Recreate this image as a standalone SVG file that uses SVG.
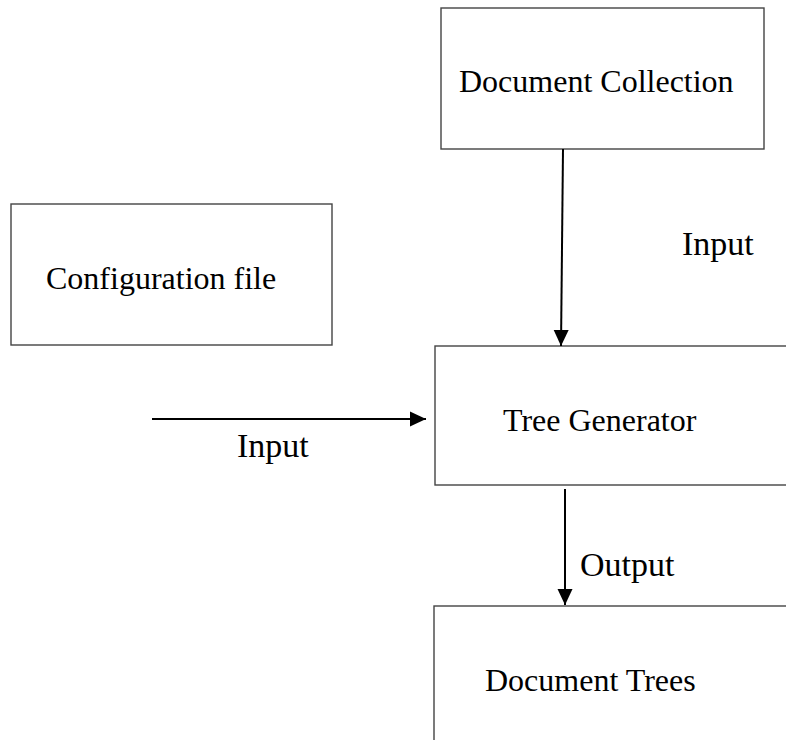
<svg xmlns="http://www.w3.org/2000/svg" width="786" height="740" viewBox="0 0 786 740">
<style>
.box{fill:#fff;stroke:#444;stroke-width:1.4}
.lbl{font-family:"Liberation Serif","Times New Roman",serif;font-size:32px;fill:#000}
.elbl{font-family:"Liberation Serif","Times New Roman",serif;font-size:34px;fill:#000}
.conn{stroke:#000;stroke-width:2;fill:none}
</style>
<defs>
<marker id="ah" markerUnits="userSpaceOnUse" markerWidth="16" markerHeight="16" viewBox="0 0 16 16" refX="16" refY="8" orient="auto">
<path d="M0,0.5 L16,8 L0,15.5 Z" fill="#000"/>
</marker>
</defs>
<rect width="786" height="740" fill="#fff"/>
<g id="doc-collection">
<rect class="box" x="441" y="8" width="323" height="141"/>
<text class="lbl" x="459" y="92">Document Collection</text>
</g>
<g id="config-file">
<rect class="box" x="11" y="204" width="321" height="141"/>
<text class="lbl" x="46" y="289">Configuration file</text>
</g>
<g id="tree-generator">
<rect class="box" x="435" y="346" width="360" height="139"/>
<text class="lbl" x="503" y="431">Tree Generator</text>
</g>
<g id="document-trees">
<rect class="box" x="434" y="606" width="370" height="150"/>
<text class="lbl" x="485" y="691">Document Trees</text>
</g>
<g id="connectors">
<line class="conn" x1="563" y1="149" x2="561" y2="346" marker-end="url(#ah)"/>
<line class="conn" x1="152" y1="419" x2="426" y2="419" marker-end="url(#ah)"/>
<line class="conn" x1="565" y1="489" x2="565" y2="605" marker-end="url(#ah)"/>
<text class="elbl" x="682" y="255">Input</text>
<text class="elbl" x="237" y="457">Input</text>
<text class="elbl" x="580" y="576">Output</text>
</g>
</svg>
